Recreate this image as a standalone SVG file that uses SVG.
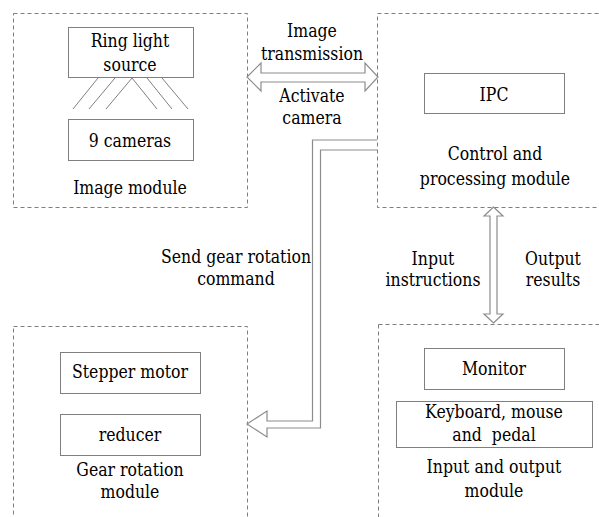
<svg xmlns="http://www.w3.org/2000/svg" width="599" height="517" viewBox="0 0 599 517">
<style>
.mod{fill:none;stroke:#7f7f7f;stroke-width:1;stroke-dasharray:4 3}
.box{fill:#fff;stroke:#7f7f7f;stroke-width:1}
.ln{stroke:#7f7f7f;stroke-width:1;fill:none}
.arr{fill:#fff;stroke:#8c8c8c;stroke-width:1.2;stroke-linejoin:miter}
text{font-family:'DejaVu Serif','Liberation Serif',serif;font-size:18.5px;fill:#000;text-anchor:middle}
</style>
<rect width="599" height="517" fill="#fff"/>
<g id="image-module">
<rect class="mod" x="13.5" y="13.5" width="234" height="194"/>
<rect class="box" x="68.5" y="27.5" width="125" height="50"/>
<path class="ln" d="M98,78 L73,109 M115,78 L89,109 M132,78 L106,109 M132,78 L157,109 M147,78 L172,109 M162,78 L188,109"/>
<rect class="box" x="68.5" y="119.5" width="125" height="41"/>
<g transform="scale(0.85 1)">
<text x="152.94" y="47">Ring light</text>
<text x="152.94" y="71">source</text>
<text x="152.94" y="147">9 cameras</text>
<text x="152.94" y="194">Image module</text>
</g>
</g>
<g id="control-module">
<rect class="mod" x="377.5" y="13.5" width="240" height="194"/>
<rect class="box" x="424.5" y="73.5" width="140" height="40"/>
<g transform="scale(0.85 1)">
<text x="581.18" y="101">IPC</text>
<text x="582.35" y="160">Control and</text>
<text x="582.35" y="185">processing module</text>
</g>
</g>
<g id="gear-module">
<rect class="mod" x="13.5" y="326.5" width="234" height="210"/>
<rect class="box" x="60.5" y="352.5" width="140" height="41"/>
<rect class="box" x="60.5" y="414.5" width="140" height="41"/>
<g transform="scale(0.85 1)">
<text x="152.94" y="378">Stepper motor</text>
<text x="152.94" y="441">reducer</text>
<text x="152.94" y="476">Gear rotation</text>
<text x="152.94" y="498">module</text>
</g>
</g>
<g id="io-module">
<rect class="mod" x="378.5" y="324.5" width="240" height="210"/>
<rect class="box" x="424.5" y="348.5" width="140" height="41"/>
<rect class="box" x="396.5" y="401.5" width="196" height="46"/>
<g transform="scale(0.85 1)">
<text x="581.18" y="375">Monitor</text>
<text x="581.18" y="418">Keyboard, mouse</text>
<text x="581.18" y="441" xml:space="preserve">and  pedal</text>
<text x="581.18" y="473">Input and output</text>
<text x="581.18" y="497">module</text>
</g>
</g>
<g id="connectors">
<path class="arr" d="M247,77 L261,63 L261,73 L365,73 L365,63 L378,77 L365,91 L365,82 L261,82 L261,91 Z"/>
<path class="arr" d="M493.5,207 L503,216 L497,216 L497,314 L503,314 L493.5,323 L484,314 L490,314 L490,216 L484,216 Z"/>
<path class="arr" d="M377,140 L312.5,140 L312.5,421 L267,421 L267,411 L247,424 L267,437 L267,428 L320.5,428 L320.5,150 L377,150"/>
<g transform="scale(0.85 1)">
<text x="367.06" y="37">Image</text>
<text x="367.06" y="60">transmission</text>
<text x="367.06" y="102">Activate</text>
<text x="367.06" y="124">camera</text>
<text x="277.65" y="263">Send gear rotation</text>
<text x="277.65" y="285">command</text>
<text x="509.41" y="265">Input</text>
<text x="509.41" y="286">instructions</text>
<text x="650.59" y="265">Output</text>
<text x="650.59" y="286">results</text>
</g>
</g>
</svg>
